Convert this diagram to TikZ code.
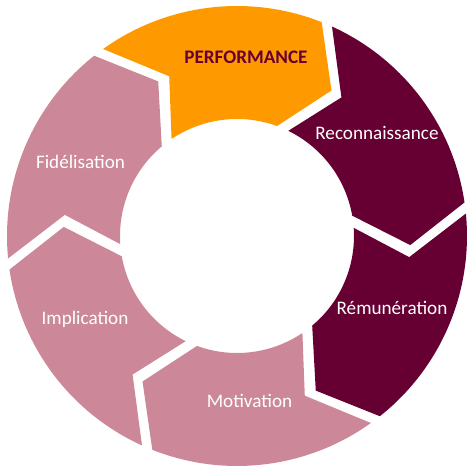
\documentclass[tikz,border=0pt]{standalone}
\usepackage{fontspec}
\setmainfont{Carlito}

\definecolor{perfOrange}{RGB}{255,153,0}
\definecolor{darkWine}{RGB}{102,0,51}
\definecolor{oldRose}{RGB}{204,136,153}

\tikzset{
  stageText/.style={text=white, font=\fontsize{10.9}{12}\selectfont, inner sep=1pt},
}

\begin{document}
\begin{tikzpicture}
  \useasboundingbox (-4.74,-4.70) rectangle (4.78,4.72); % Keep the margins
  \def\Rout{4.6} \def\Rin{2.34} \def\Rmid{3.47}
  % Draw the six arrow segments of the ring, clockwise
  \foreach \c/\col in {97/perfOrange, 37/darkWine, -23/darkWine, -83/oldRose, -143/oldRose, 157/oldRose}
    \fill[\col] ({\c+28.6}:\Rout) arc[start angle=\c+28.6, end angle=\c-28.6, radius=\Rout]
      -- ({\c-40}:\Rmid) -- ({\c-27}:\Rin)
      arc[start angle=\c-27, end angle=\c+27, radius=\Rin]
      -- ({\c+16}:\Rmid) -- cycle;
  \node[stageText, text=darkWine, font=\fontsize{10.9}{12}\selectfont\bfseries] (perf) at (0.18,3.58) {PERFORMANCE}; % Top stage
  \node[stageText] (recon) at (2.80,2.06) {Reconnaissance};
  \node[stageText] (remun) at (3.10,-1.44) {Rémunération};
  \node[stageText] (motiv) at (0.25,-3.30) {Motivation};
  \node[stageText] (impli) at (-3.04,-1.66) {Implication};
  \node[stageText] (fidel) at (-3.13,1.48) {Fidélisation};
\end{tikzpicture}
\end{document}
